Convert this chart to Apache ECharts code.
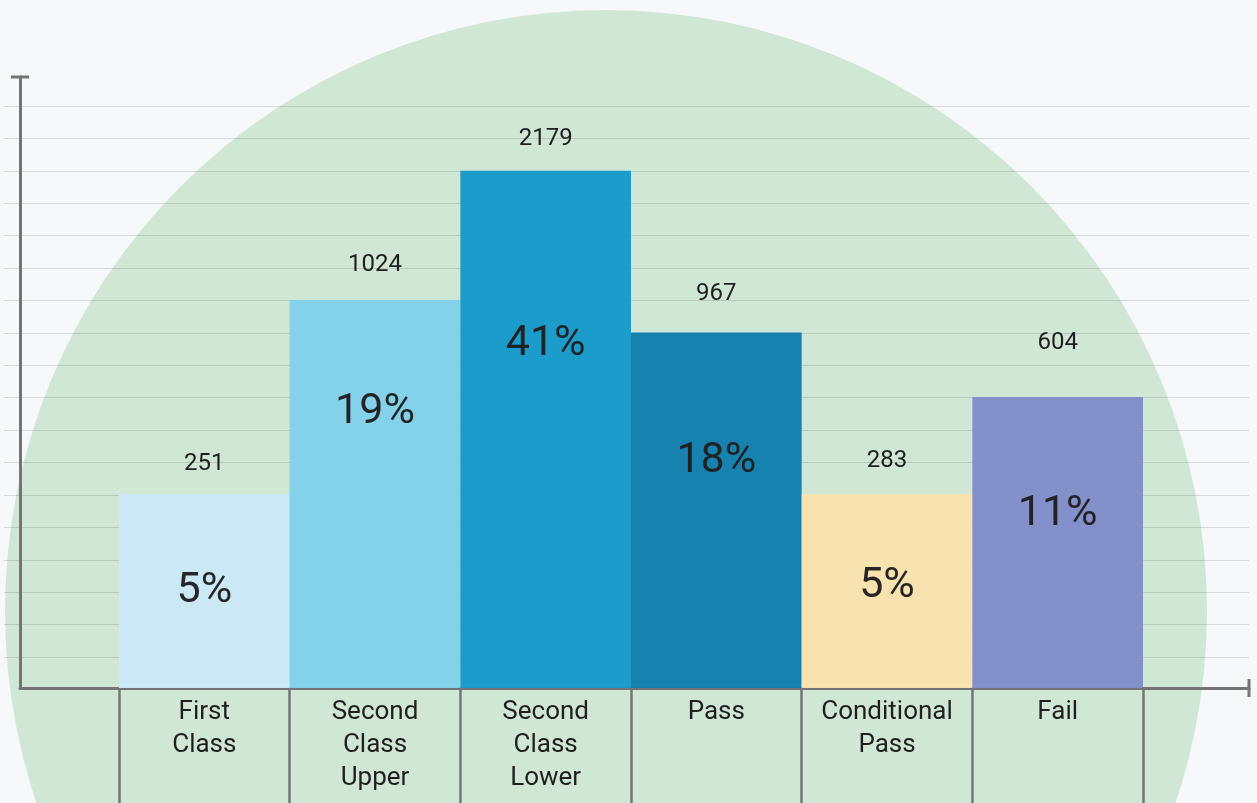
<!DOCTYPE html>
<html>
<head>
<meta charset="utf-8">
<title>Results</title>
<script src="https://cdn.jsdelivr.net/npm/echarts@6/dist/echarts.min.js"></script>
<style>
  html, body { margin: 0; padding: 0; background: #f7f8fa; }
  #chart_box { width: 1257px; height: 803px; }
</style>
</head>
<body>
<div id="chart_box"></div>
<script>
(function() {

    // data
    var categories = ['First\nClass', 'Second\nClass\nUpper', 'Second\nClass\nLower', 'Pass', 'Conditional\nPass', 'Fail'];
    var barHeights = [6, 12, 16, 11, 6, 9];   // bar height in grid steps, as drawn
    var counts = [251, 1024, 2179, 967, 283, 604];
    var shares = [5, 19, 41, 18, 5, 11];

    // styles
    var barColors = ['#cae7f8', '#81cfea', '#1699ca', '#117dad', '#f9e2ae', '#808cc9'];
    var countGap = [18, 23, 20, 26, 21, 42];
    var shareDrop = [76, 91, 152, 107, 71, 96];

    var axisColor = '#757575';
    var font = 'Roboto, "Noto Sans", sans-serif';

    var myChart = echarts.init(document.getElementById('chart_box'));

    var shareData = [];
    var countData = [];
    for (var i = 0; i < barHeights.length; i++) {
        shareData.push({
            value: barHeights[i],
            itemStyle: { color: barColors[i] },
            label: { distance: shareDrop[i] }
        });
        countData.push({
            value: barHeights[i],
            label: { distance: countGap[i] }
        });
    }

    myChart.setOption({
        backgroundColor: '#f7f8fa',
        animation: false,
        graphic: [{
            type: 'circle',
            z: -10,
            shape: { cx: 606, cy: 611, r: 601 },
            style: { fill: '#d1e7d6' }
        }],
        grid: [
            // horizontal rules
            { left: 4, right: 8, top: 106, bottom: 146 },
            // axis lines
            { left: 20, right: 8, top: 77, bottom: 115 },
            // bars
            { left: 119, right: 114, top: 77, bottom: 115 }
        ],
        xAxis: [{
            gridIndex: 0,
            type: 'value',
            show: false
        }, {
            gridIndex: 1,
            type: 'value',
            min: 0,
            max: 1,
            axisLine: {
                show: true,
                symbol: ['none', 'rect'],
                symbolSize: [18, 3],
                lineStyle: { color: axisColor, width: 3 }
            },
            axisTick: { show: false },
            axisLabel: { show: false },
            splitLine: { show: false }
        }, {
            gridIndex: 2,
            type: 'category',
            data: categories,
            boundaryGap: true,
            axisLine: { show: false },
            axisTick: {
                show: true,
                interval: 0,
                length: 115,
                lineStyle: { color: axisColor, width: 2.5 }
            },
            axisLabel: {
                interval: 0,
                margin: 8,
                color: '#1f1f1f',
                fontSize: 26,
                lineHeight: 33,
                fontFamily: font
            },
            splitLine: { show: false }
        }],
        yAxis: [{
            gridIndex: 0,
            type: 'value',
            min: 1,
            max: 18,
            interval: 1,
            axisLine: { show: false },
            axisTick: { show: false },
            axisLabel: { show: false },
            splitLine: {
                show: true,
                lineStyle: { color: 'rgba(0,0,0,0.13)', width: 1 }
            }
        }, {
            gridIndex: 1,
            type: 'value',
            min: 0,
            max: 1,
            axisLine: {
                show: true,
                symbol: ['none', 'rect'],
                symbolSize: [18, 3],
                lineStyle: { color: axisColor, width: 3 }
            },
            axisTick: { show: false },
            axisLabel: { show: false },
            splitLine: { show: false }
        }, {
            gridIndex: 2,
            type: 'value',
            min: 0,
            max: 18.9,
            show: false
        }],
        series: [{
            name: 'share',
            type: 'bar',
            xAxisIndex: 2,
            yAxisIndex: 2,
            barWidth: '100%',
            barGap: '-100%',
            barCategoryGap: 0,
            itemStyle: { opacity: 0.97 },
            label: {
                show: true,
                position: 'insideTop',
                color: '#1f1f1f',
                fontSize: 43,
                fontFamily: font,
                formatter: function(p) {
                    return shares[p.dataIndex] + '%';
                }
            },
            data: shareData
        }, {
            name: 'count',
            type: 'bar',
            xAxisIndex: 2,
            yAxisIndex: 2,
            barWidth: '100%',
            barGap: '-100%',
            barCategoryGap: 0,
            itemStyle: { color: 'rgba(0,0,0,0)' },
            label: {
                show: true,
                position: 'top',
                color: '#1f1f1f',
                fontSize: 24,
                fontFamily: font,
                formatter: function(p) {
                    return counts[p.dataIndex];
                }
            },
            data: countData
        }]
    });
})();
</script>
</body>
</html>
